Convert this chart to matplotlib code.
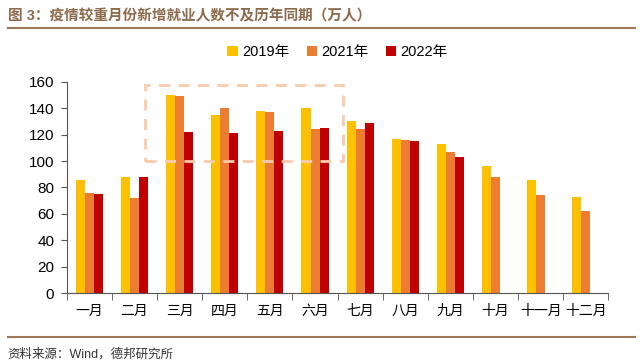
import numpy as np
import matplotlib.pyplot as plt
from matplotlib.patches import Rectangle

plt.rcParams['font.family'] = ['Liberation Sans', 'Noto Sans CJK SC']

months = ["一月", "二月", "三月", "四月", "五月", "六月", "七月", "八月", "九月", "十月", "十一月", "十二月"]
y2019 = [86, 88, 150, 135, 138, 140, 130, 117, 113, 96, 86, 73]
y2021 = [76, 72, 149, 140, 137, 124, 124, 116, 107, 88, 74, 62]
y2022 = [75, 88, 122, 121, 123, 125, 129, 115, 103]
series_names = ["2019年", "2021年", "2022年"]
colors = ["#FFC000", "#ED7D31", "#C00000"]

fig = plt.figure(figsize=(6.43, 3.64), dpi=100)
ax = fig.add_axes([0.104, 0.195, 0.842, 0.58])

x = np.arange(len(months))
w = 0.2
ax.bar(x - w, y2019, w, color=colors[0], label=series_names[0])
ax.bar(x, y2021, w, color=colors[1], label=series_names[1])
ax.bar(np.arange(len(y2022)) + w, y2022, w, color=colors[2], label=series_names[2])

# highlight box
ax.add_patch(Rectangle((1.23, 100), 4.38, 58, fill=False, edgecolor="#F8CBAD",
                       linestyle=(0, (4, 3)), linewidth=2, clip_on=False))

ax.set_xlim(-0.5, 11.5)
ax.set_ylim(0, 160)
ax.set_yticks(range(0, 161, 20))
ax.tick_params(axis='y', labelsize=11, length=4, color="#555555", pad=5)
ax.set_xticks(x)
ax.set_xticklabels(months, fontsize=10)
ax.set_xticks(np.arange(-0.5, 12, 1), minor=True)
ax.tick_params(axis='x', which='major', length=0, pad=8)
ax.tick_params(axis='x', which='minor', length=5, color="#555555")
for s in ["top", "right"]:
    ax.spines[s].set_visible(False)
for s in ["left", "bottom"]:
    ax.spines[s].set_color("#555555")

ax.legend(loc='center', bbox_to_anchor=(0.5, 1.14), ncol=3, frameon=False,
          fontsize=10.5, handlelength=0.7, handleheight=0.7, handletextpad=0.3,
          columnspacing=1.2)

fig.text(0.012, 0.955, "图 3：疫情较重月份新增就业人数不及历年同期（万人）", fontsize=10.5,
         fontweight='bold', color="#8C6A4B", va='center')
fig.add_artist(plt.Line2D([0.012, 0.988], [0.922, 0.922], color="#A0785A", linewidth=1.5))
fig.add_artist(plt.Line2D([0.012, 0.988], [0.074, 0.074], color="#A0785A", linewidth=1.5))
fig.text(0.012, 0.027, "资料来源：Wind，德邦研究所", fontsize=9, color="#333333", va='center')

fig.savefig("out.png", dpi=100)
